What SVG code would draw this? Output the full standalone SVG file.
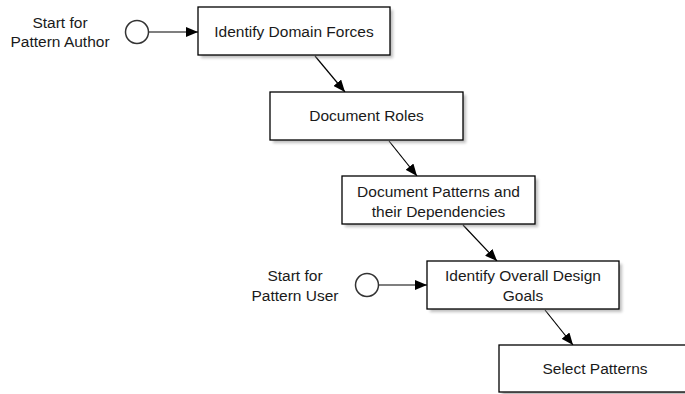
<svg xmlns="http://www.w3.org/2000/svg" width="685" height="394" viewBox="0 0 685 394">
  <style>
    .box { fill: #ffffff; stroke: #000000; stroke-width: 1.3; }
    .shadow { fill: #8a8a8a; opacity: 0.55; filter: url(#soft); }
    .start { fill: #ffffff; stroke: #333333; stroke-width: 1.5; }
    .label { font-family: "Liberation Sans", Arial, sans-serif; font-size: 15.5px; fill: #1a1a1a; text-anchor: middle; }
    .edge { stroke: #000000; stroke-width: 1.2; fill: none; marker-end: url(#arrow); }
  </style>
  <defs>
    <filter id="soft" x="-10%" y="-20%" width="120%" height="140%">
      <feGaussianBlur stdDeviation="1.5"/>
    </filter>
    <marker id="arrow" viewBox="0 0 12 10" refX="12" refY="5" markerWidth="12" markerHeight="10" markerUnits="userSpaceOnUse" orient="auto">
      <path d="M0,0 L12,5 L0,10 Z" fill="#000000"/>
    </marker>
  </defs>
  <rect width="685" height="394" fill="#ffffff"/>

  <!-- connectors -->
  <g id="connectors">
    <line class="edge" x1="148" y1="32" x2="198" y2="32"/>
    <line class="edge" x1="315" y1="56" x2="345" y2="92"/>
    <line class="edge" x1="389" y1="141" x2="417" y2="176"/>
    <line class="edge" x1="463" y1="225" x2="497" y2="261"/>
    <line class="edge" x1="379" y1="285" x2="427" y2="285"/>
    <line class="edge" x1="545" y1="310" x2="573" y2="345"/>
  </g>

  <g id="start-author">
    <circle class="start" cx="137" cy="32" r="11.5"/>
    <text class="label" x="60" y="28">Start for</text>
    <text class="label" x="60" y="47">Pattern Author</text>
  </g>

  <g id="identify-domain-forces">
    <rect class="shadow" x="201" y="10" width="192" height="48"/>
    <rect class="box" x="198" y="7" width="192" height="48"/>
    <text class="label" x="294" y="37">Identify Domain Forces</text>
  </g>

  <g id="document-roles">
    <rect class="shadow" x="273" y="95" width="193" height="48"/>
    <rect class="box" x="270" y="92" width="193" height="48"/>
    <text class="label" x="366.5" y="121">Document Roles</text>
  </g>

  <g id="document-patterns">
    <rect class="shadow" x="345" y="179" width="193" height="48"/>
    <rect class="box" x="342" y="176" width="193" height="48"/>
    <text class="label" x="438.5" y="197">Document Patterns and</text>
    <text class="label" x="438.5" y="217">their Dependencies</text>
  </g>

  <g id="start-user">
    <circle class="start" cx="367" cy="285" r="11.5"/>
    <text class="label" x="295" y="281">Start for</text>
    <text class="label" x="295" y="301">Pattern User</text>
  </g>

  <g id="identify-design-goals">
    <rect class="shadow" x="430" y="264" width="192" height="48"/>
    <rect class="box" x="427" y="261" width="192" height="48"/>
    <text class="label" x="523" y="281">Identify Overall Design</text>
    <text class="label" x="523" y="301">Goals</text>
  </g>

  <g id="select-patterns">
    <rect class="shadow" x="502" y="348" width="192" height="48"/>
    <rect class="box" x="499" y="345" width="192" height="47"/>
    <text class="label" x="595" y="374">Select Patterns</text>
  </g>
</svg>
